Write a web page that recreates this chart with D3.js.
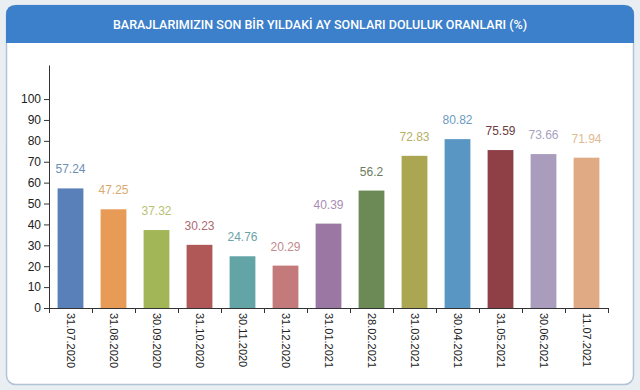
<!DOCTYPE html>
<html>
<head>
<meta charset="utf-8">
<script src="https://cdn.jsdelivr.net/npm/d3@7"></script>
<style>
  html, body { margin: 0; padding: 0; background: #e9eef3; }
  svg { display: block; font-family: "Liberation Sans", Arial, sans-serif; }
</style>
</head>
<body>
<div id="chart"></div>
<script>
// chart data
const dates = ["31.07.2020", "31.08.2020", "30.09.2020", "31.10.2020", "30.11.2020", "31.12.2020",
  "31.01.2021", "28.02.2021", "31.03.2021", "30.04.2021", "31.05.2021", "30.06.2021", "11.07.2021"]
const values = [57.24, 47.25, 37.32, 30.23, 24.76, 20.29, 40.39, 56.2, 72.83, 80.82, 75.59, 73.66, 71.94]
const valueLabels = ["57.24", "47.25", "37.32", "30.23", "24.76", "20.29", "40.39", "56.2", "72.83", "80.82", "75.59", "73.66", "71.94"]
const yTicks = [0, 10, 20, 30, 40, 50, 60, 70, 80, 90, 100]
const title = "BARAJLARIMIZIN SON BİR YILDAKİ AY SONLARI DOLULUK ORANLARI (%)"

const barColors = ["#5a80b9", "#e89b57", "#a3b657", "#b05757", "#63a5a6", "#c47a7a", "#9b77a3",
  "#6b8a56", "#aaa651", "#5996c4", "#8e4046", "#a99cbd", "#e0aa85"]
const labelColors = ["#6d8fb4", "#d8aa72", "#b9bf74", "#ad6a70", "#6ba3a6", "#c08c8c", "#a98cb2",
  "#6b7b5c", "#b5b064", "#6c9bc1", "#6c3c43", "#a9a1c1", "#e1b992"]

const W = 640, H = 390

const svg = d3.select("#chart").append("svg")
  .attr("width", W)
  .attr("height", H)

// card
svg.append("rect")
  .attr("x", 6.5).attr("y", 5.5)
  .attr("width", 627).attr("height", 379)
  .attr("rx", 9)
  .attr("fill", "#ffffff")
  .attr("stroke", "#b3c3d6")
  .attr("stroke-width", 1.5)

// header, rounded only on top
svg.append("path")
  .attr("d", "M6,43 L6,15 Q6,5 16,5 L624,5 Q634,5 634,15 L634,43 Z")
  .attr("fill", "#3c7fcb")

svg.append("text")
  .attr("x", 320).attr("y", 29)
  .attr("text-anchor", "middle")
  .attr("fill", "#ffffff")
  .style("font-family", "Roboto, 'Liberation Sans', sans-serif")
  .style("font-size", "12.5px")
  .style("font-weight", 500)
  .text(title)

// scales
const x = d3.scaleBand()
  .domain(dates)
  .range([49, 608])
  .paddingInner(0.4)
  .paddingOuter(0.2)

const xEdge = d3.scaleLinear()
  .domain([0, dates.length])
  .range([49, 608])

const y = d3.scaleLinear()
  .domain([0, 116.3])
  .range([308, 65])

// bars
svg.append("g")
  .selectAll("rect")
  .data(values)
  .join("rect")
  .attr("x", (d, i) => x(dates[i]))
  .attr("y", d => y(d))
  .attr("width", x.bandwidth())
  .attr("height", d => y(0) - y(d))
  .attr("fill", (d, i) => barColors[i])

// value labels
svg.append("g")
  .selectAll("text")
  .data(values)
  .join("text")
  .attr("x", (d, i) => x(dates[i]) + x.bandwidth() / 2)
  .attr("y", d => y(d) - 15)
  .attr("text-anchor", "middle")
  .attr("fill", (d, i) => labelColors[i])
  .style("font-size", "12px")
  .text((d, i) => valueLabels[i])

// y axis
const yAxis = svg.append("g")
  .attr("transform", "translate(49,0)")
  .call(d3.axisLeft(y).tickValues(yTicks).tickSize(5).tickSizeOuter(0).tickPadding(3))
yAxis.selectAll("text").style("font-size", "12px").attr("fill", "#222")
yAxis.selectAll("line,path").attr("stroke", "#333")

// x axis ticks at band edges
const xAxis = svg.append("g")
  .attr("transform", "translate(0,308)")
  .call(d3.axisBottom(xEdge).tickValues(d3.range(dates.length + 1)).tickFormat("").tickSize(5).tickSizeOuter(0))
xAxis.selectAll("line,path").attr("stroke", "#333")

// x labels, rotated
svg.append("g")
  .selectAll("text")
  .data(dates)
  .join("text")
  .attr("transform", d => `translate(${x(d) + x.bandwidth() / 2},313) rotate(90)`)
  .attr("dy", "0.35em")
  .attr("fill", "#222")
  .style("font-size", "11px")
  .text(d => d)
</script>
</body>
</html>
